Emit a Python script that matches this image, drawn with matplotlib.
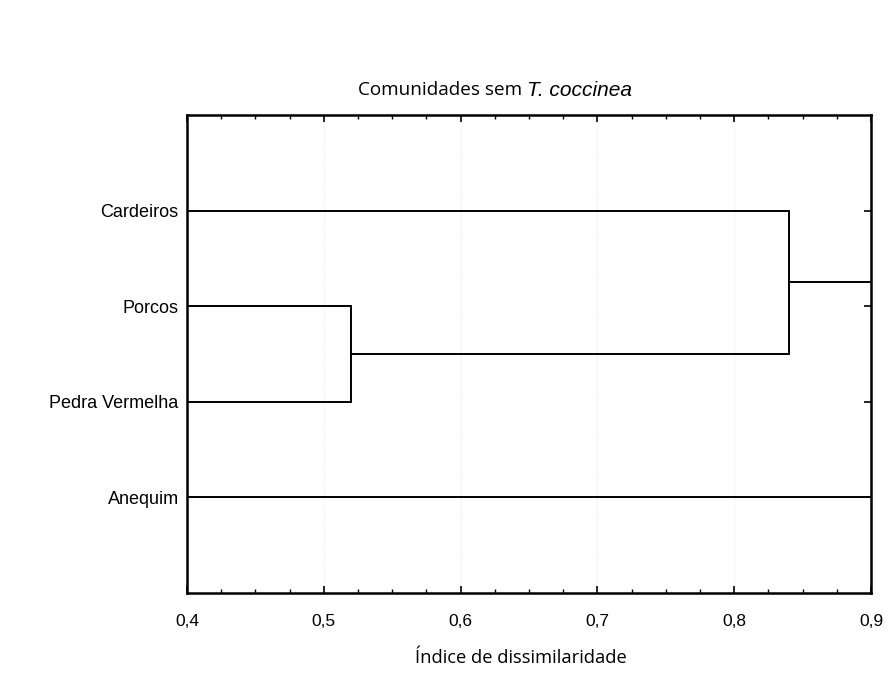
import numpy as np
import matplotlib.pyplot as plt
from matplotlib.ticker import MultipleLocator, FuncFormatter

# leaves, top to bottom
leaves = ['Cardeiros', 'Porcos', 'Pedra Vermelha', 'Anequim']
# merges: (left member, right member, height); members >= len(leaves) are earlier clusters
merges = [(1, 2, 0.52),
          (0, 4, 0.84),
          (5, 3, 0.96)]

n = len(leaves)
pos = {i: i + 1.0 for i in range(n)}
hgt = {i: 0.4 for i in range(n)}

fig = plt.figure(figsize=(8.95, 6.79), dpi=100)
ax = fig.add_axes([0.2089, 0.1267, 0.7643, 0.7039])

for k, (a, b, h) in enumerate(merges):
    ya, yb = pos[a], pos[b]
    ax.plot([hgt[a], h, h, hgt[b]], [ya, ya, yb, yb], color='black', lw=1.4,
            solid_joinstyle='miter', clip_on=True)
    pos[n + k] = (ya + yb) / 2
    hgt[n + k] = h

ax.set_xlim(0.4, 0.9)
ax.set_ylim(5, 0)
ax.xaxis.set_major_locator(MultipleLocator(0.1))
ax.xaxis.set_minor_locator(MultipleLocator(0.025))
ax.xaxis.set_major_formatter(FuncFormatter(lambda v, p: f'{v:.1f}'.replace('.', ',')))
ax.set_yticks(np.arange(1, n + 1))
ax.set_yticklabels(leaves)

ax.tick_params(which='both', direction='in', top=True, right=True, colors='black',
               labelfontfamily='Liberation Sans')
ax.tick_params(which='major', length=5, width=1.2)
ax.tick_params(which='minor', length=3, width=1.0)
ax.tick_params(axis='x', pad=15, labelsize=12.5)
ax.tick_params(axis='y', pad=6, labelsize=13)
for s in ax.spines.values():
    s.set_linewidth(1.8)

ax.grid(axis='x', which='major', color='#e8e8e8', linestyle=(0, (2, 2)), lw=0.6)
ax.set_axisbelow(True)

fig.text(0.589, 0.867, 'Comunidades sem ', ha='right', va='center',
         fontfamily='Open Sans', fontsize=13.6)
fig.text(0.589, 0.867, 'T. coccinea', ha='left', va='center', style='italic',
         fontfamily='Liberation Sans', fontsize=15)
fig.text(0.582, 0.031, 'Índice de dissimilaridade', ha='center', va='center',
         fontfamily='Open Sans', fontsize=13.2)

fig.savefig('out.png', dpi=100)
